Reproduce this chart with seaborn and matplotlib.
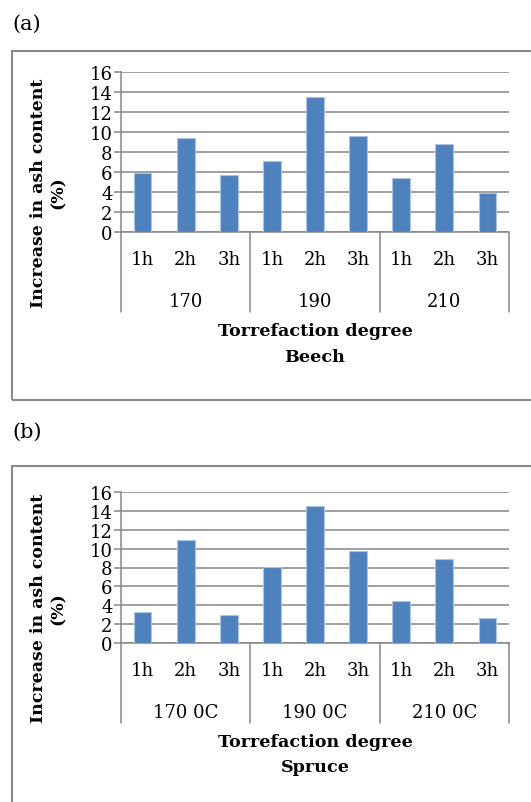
import pandas as pd
import seaborn as sns
import matplotlib.pyplot as plt
from matplotlib.patches import Rectangle
from matplotlib.transforms import blended_transform_factory

# chart data
hours = ["1h", "2h", "3h"]
groups_beech = ["170", "190", "210"]
groups_spruce = ["170 0C", "190 0C", "210 0C"]
beech_values = [5.9, 9.4, 5.75, 7.1, 13.55, 9.65, 5.45, 8.8, 3.9]
spruce_values = [3.25, 10.95, 2.95, 8.1, 14.55, 9.7, 4.45, 8.85, 2.7]
y_ticks = [0, 2, 4, 6, 8, 10, 12, 14, 16]

W, H = 531, 803
BAR = "#4F81BD"
GRAY = "#868686"
FONT = "DejaVu Serif"
FS = 13

sns.set_style("white")
plt.rcParams["font.family"] = [FONT, "Liberation Serif"]
plt.rcParams["text.color"] = "black"
plt.rcParams["ytick.labelcolor"] = "black"

fig = plt.figure(figsize=(W / 100, H / 100), dpi=100)


def fx(px):
    return px / W


def fy(py):
    return 1 - py / H


def draw_panel(letter, letter_y, box_top, box_bottom, ax_top, ax_bottom,
               groups, values, species):
    fig.text(fx(12), fy(letter_y), letter, fontsize=15, va="center", ha="left")
    fig.patches.append(Rectangle((fx(12), fy(box_bottom)), 1.2, fy(box_top) - fy(box_bottom),
                                 transform=fig.transFigure, fill=False,
                                 edgecolor="#8a8a8a", linewidth=1.5, zorder=0))

    ax = fig.add_axes([fx(121), fy(ax_bottom), fx(509) - fx(121), fy(ax_top) - fy(ax_bottom)])
    cats = [f"{g}-{h}" for g in groups for h in hours]
    df = pd.DataFrame({"cat": cats, "value": values})
    sns.barplot(data=df, x="cat", y="value", order=cats, color=BAR, width=0.41,
                edgecolor="#a9c4e6", linewidth=0.8, saturation=1, ax=ax, zorder=3)

    ax.set_ylim(0, 16)
    ax.set_xlim(-0.5, 8.5)
    ax.set_yticks(y_ticks)
    ax.set_yticklabels([str(t) for t in y_ticks], fontsize=FS, color="black")
    ax.tick_params(axis="y", length=5, width=1.1, color=GRAY, pad=1, left=True)
    ax.grid(axis="y", color=GRAY, linewidth=1.1, zorder=0)
    ax.set_axisbelow(True)
    for s in ["top", "right"]:
        ax.spines[s].set_visible(False)
    for s in ["left", "bottom"]:
        ax.spines[s].set_color(GRAY)
        ax.spines[s].set_linewidth(1.1)

    ax.set_xticks([])
    ax.set_xlabel("")
    ax.set_ylabel("")

    hpx = ax_bottom - ax_top
    tr = blended_transform_factory(ax.transData, ax.transAxes)
    for i, c in enumerate(cats):
        ax.text(i, -27 / hpx, hours[i % 3], transform=tr, ha="center", va="center",
                fontsize=FS)
    for j, g in enumerate(groups):
        ax.text(3 * j + 1, -69 / hpx, g, transform=tr, ha="center", va="center",
                fontsize=FS)
    for x in [-0.5, 2.5, 5.5, 8.5]:
        ax.plot([x, x], [0, -80 / hpx], transform=tr, color=GRAY, linewidth=1.1,
                clip_on=False)

    ax.text(4, -99 / hpx, "Torrefaction degree", transform=tr, ha="center", va="center",
            fontsize=12.6, fontweight="bold")
    ax.text(4, -124 / hpx, species, transform=tr, ha="center", va="center",
            fontsize=12.6, fontweight="bold")

    yc = (ax_top + ax_bottom) / 2 + 40
    fig.text(fx(48), fy(yc), "Increase in ash content\n(%)", rotation=90,
             ha="center", va="center", multialignment="center", fontsize=12.5,
             fontweight="bold", linespacing=1.2)


draw_panel("(a)", 24, 52, 401, 73, 233, groups_beech, beech_values, "Beech")
draw_panel("(b)", 432, 467, 820, 493, 644, groups_spruce, spruce_values, "Spruce")

fig.savefig("out.png", dpi=100)
